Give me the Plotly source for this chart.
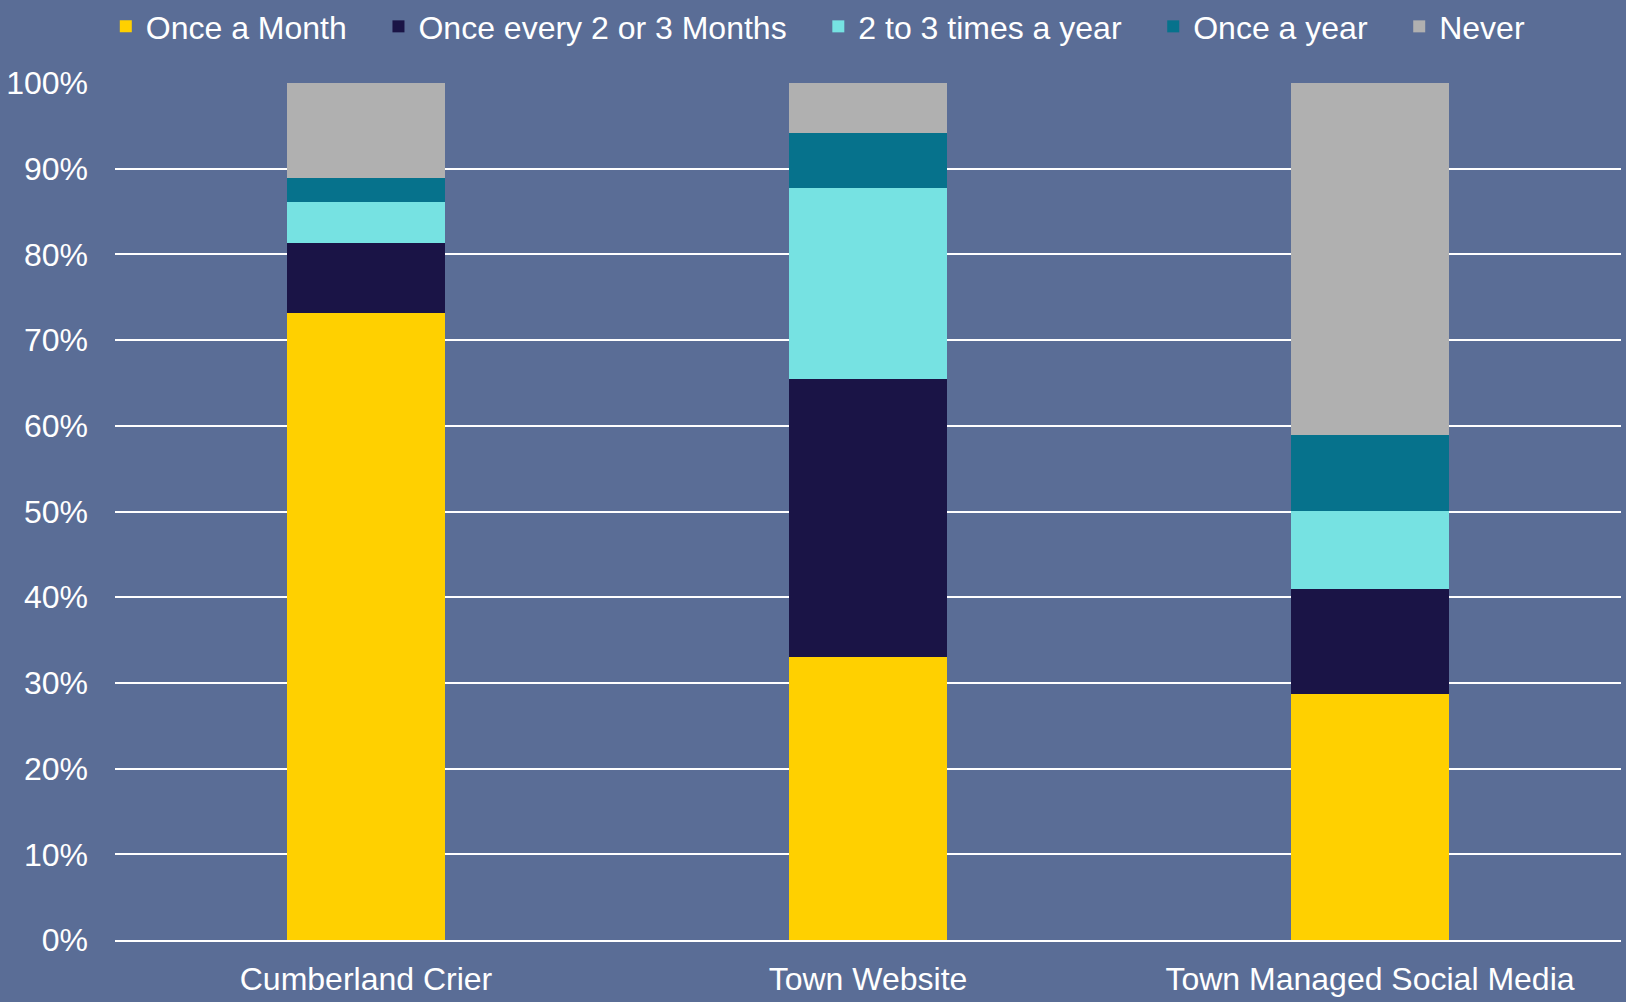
import plotly.graph_objects as go

categories = ["Cumberland Crier", "Town Website", "Town Managed Social Media"]
series_names = ["Once a Month", "Once every 2 or 3 Months", "2 to 3 times a year", "Once a year", "Never"]
once_a_month = [73.2, 33.0, 28.7]
every_2_3_months = [8.1, 32.5, 12.3]
two_three_year = [4.8, 22.2, 9.1]
once_a_year = [2.8, 6.5, 8.8]
never = [11.1, 5.8, 41.1]
colors = ["#FFD000", "#1A1446", "#76E2E2", "#06728C", "#B0B0B0"]
tick_vals = [0, 10, 20, 30, 40, 50, 60, 70, 80, 90, 100]
tick_text = [f"{v}%" for v in tick_vals]

series = [once_a_month, every_2_3_months, two_three_year, once_a_year, never]

PAD = "\u00a0" * 3
fig = go.Figure()
for name, vals, col in zip(series_names, series, colors):
    fig.add_trace(go.Bar(
        x=categories, y=vals, name=name + (PAD if name != "Never" else ""),
        marker=dict(color=col, line=dict(width=0)),
    ))

BG = "#5A6D96"
font_family = "Liberation Sans, Arial, sans-serif"
FS = 32
fig.update_layout(
    barmode="stack",
    bargap=0.687,
    width=1626, height=1002,
    paper_bgcolor=BG, plot_bgcolor=BG,
    margin=dict(l=115, r=5, t=83, b=62),
    font=dict(family=font_family, color="white", size=FS),
    showlegend=True,
    legend=dict(
        orientation="h", x=0.467, xanchor="center",
        yref="container", y=0.9735, yanchor="middle",
        font=dict(size=FS, color="white"),
        bgcolor="rgba(0,0,0,0)", traceorder="normal",
        itemwidth=30,
    ),
    yaxis=dict(
        range=[0, 100], tickvals=tick_vals, ticktext=tick_text,
        showgrid=True, gridcolor="white", gridwidth=2,
        zeroline=False, showline=False,
        ticklabelstandoff=26,
        tickfont=dict(size=FS, color="white"),
        fixedrange=True,
    ),
    xaxis=dict(
        showline=True, linecolor="white", linewidth=2,
        showgrid=False, ticks="", ticklabelstandoff=10,
        tickfont=dict(size=FS, color="white"),
    ),
)

fig.write_html(
    "out.html",
    config={"displayModeBar": False},
    post_script="document.body.style.margin='0';document.body.style.overflow='hidden';",
)
